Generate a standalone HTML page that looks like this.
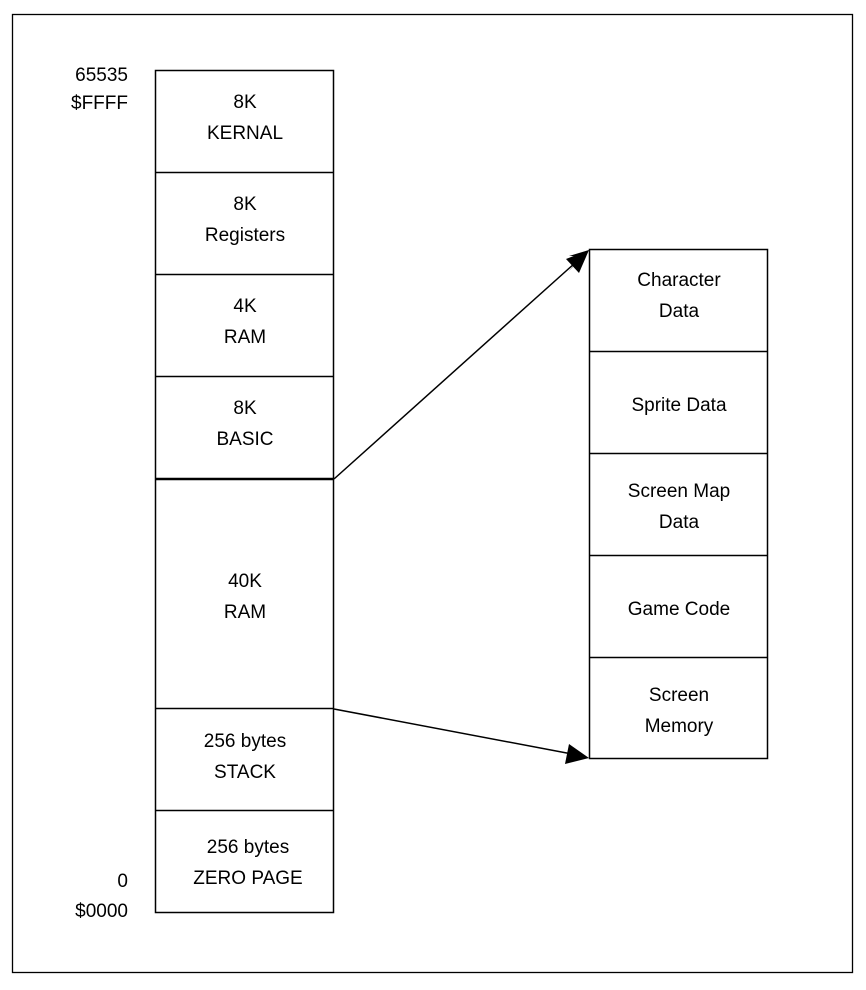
<!DOCTYPE html>
<html><head><style>body{margin:0;background:#fff}svg{display:block}text{font-family:"Liberation Sans",sans-serif;font-size:19px;fill:#000}</style></head><body>
<svg width="866" height="990" viewBox="0 0 866 990">
<rect x="12.5" y="14.5" width="840" height="958" fill="none" stroke="#000" stroke-width="1.3"/>
<g fill="none" stroke="#000" stroke-width="1.5">
<rect x="155.5" y="70.5" width="178" height="842"/>
<line x1="155" y1="172.5" x2="334" y2="172.5"/>
<line x1="155" y1="274.5" x2="334" y2="274.5"/>
<line x1="155" y1="376.5" x2="334" y2="376.5"/>
<line x1="155" y1="479" x2="334" y2="479" stroke-width="2.5"/>
<line x1="155" y1="708.5" x2="334" y2="708.5"/>
<line x1="155" y1="810.5" x2="334" y2="810.5"/>
<rect x="589.5" y="249.5" width="178" height="509"/>
<line x1="589" y1="351.5" x2="768" y2="351.5"/>
<line x1="589" y1="453.5" x2="768" y2="453.5"/>
<line x1="589" y1="555.5" x2="768" y2="555.5"/>
<line x1="589" y1="657.5" x2="768" y2="657.5"/>
<line x1="334" y1="479" x2="575" y2="263"/>
<line x1="334" y1="709" x2="572" y2="754"/>
</g>
<polygon points="589,250 568,272 582,256 569,256" fill="#000"/>
<polygon points="589,250 566,259 579,273" fill="#000"/>
<polygon points="589,758 565,764 569,744" fill="#000"/>
<g text-anchor="middle">
<text x="245" y="108">8K</text><text x="245" y="139">KERNAL</text>
<text x="245" y="210">8K</text><text x="245" y="241">Registers</text>
<text x="245" y="312">4K</text><text x="245" y="343">RAM</text>
<text x="245" y="414">8K</text><text x="245" y="445">BASIC</text>
<text x="245" y="587">40K</text><text x="245" y="618">RAM</text>
<text x="245" y="747">256 bytes</text><text x="245" y="778">STACK</text>
<text x="248" y="853">256 bytes</text><text x="248" y="884">ZERO PAGE</text>
<text x="679" y="286">Character</text><text x="679" y="317">Data</text>
<text x="679" y="411">Sprite Data</text>
<text x="679" y="497">Screen Map</text><text x="679" y="528">Data</text>
<text x="679" y="615">Game Code</text>
<text x="679" y="701">Screen</text><text x="679" y="732">Memory</text>
</g>
<g text-anchor="end">
<text x="128" y="81">65535</text><text x="128" y="109">$FFFF</text>
<text x="128" y="887">0</text><text x="128" y="917">$0000</text>
</g>
</svg>
</body></html>
